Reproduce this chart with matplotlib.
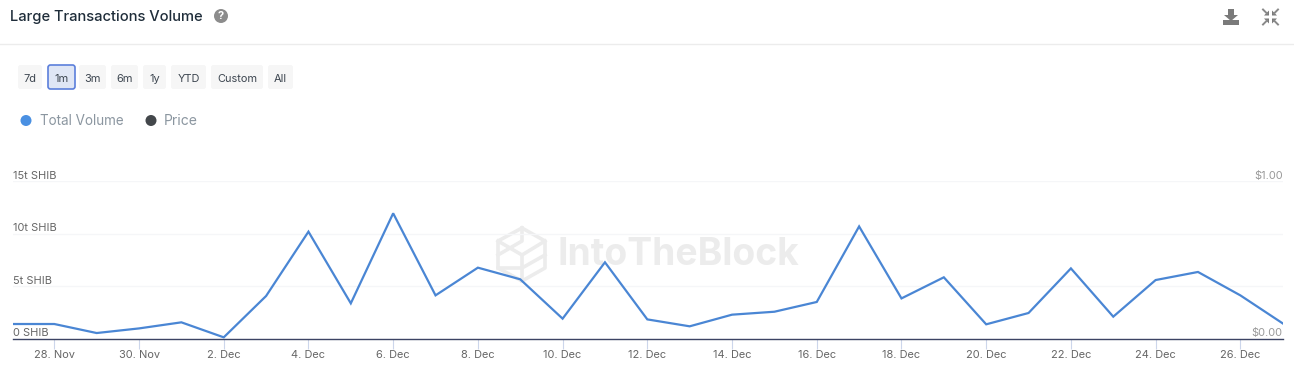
#!/usr/bin/env python3
"""Large Transactions Volume (SHIB), 1m view."""

import matplotlib
matplotlib.use("Agg")
import matplotlib.pyplot as plt
from matplotlib.patches import Circle, FancyBboxPatch, Polygon

W, H = 1294, 372

# daily volume in trillions of SHIB, 27 Nov .. 27 Dec
day_index = list(range(31))
volume_t = [1.40, 1.40, 0.54, 0.98, 1.56, 0.13, 4.07, 10.2, 3.37, 11.95, 4.13,
            6.77, 5.66, 1.91, 7.28, 1.84, 1.18, 2.29, 2.57, 3.50, 10.7, 3.84,
            5.85, 1.37, 2.45, 6.70, 2.10, 5.59, 6.36, 4.13, 1.46]
tick_days = list(range(1, 30, 2))
tick_labels = ["28. Nov", "30. Nov", "2. Dec", "4. Dec", "6. Dec", "8. Dec",
               "10. Dec", "12. Dec", "14. Dec", "16. Dec", "18. Dec", "20. Dec",
               "22. Dec", "24. Dec", "26. Dec"]
left_ticks = [0, 5, 10, 15]
left_labels = ["0 SHIB", "5t SHIB", "10t SHIB", "15t SHIB"]
right_ticks = [0, 15]
right_labels = ["$0.00", "$1.00"]
ranges = ["7d", "1m", "3m", "6m", "1y", "YTD", "Custom", "All"]
range_x0 = [18, 48, 79, 111, 143, 171, 211, 268]
range_x1 = [42, 75, 106, 138, 166, 206, 263, 293]

plt.rcParams["font.family"] = ["Inter", "DejaVu Sans"]


def px(size):
    return size * 0.72


fig = plt.figure(figsize=(W / 100, H / 100), dpi=100, facecolor="white")

# page furniture in pixel coordinates
bg = fig.add_axes([0, 0, 1, 1], zorder=0)
bg.set_xlim(0, W)
bg.set_ylim(H, 0)
bg.axis("off")

bg.text(10, 17, "Large Transactions Volume", fontsize=px(14.7), weight=500,
        color="#1f2d3a", va="center")
bg.add_patch(Circle((221, 16), 7, fc="#8c8c8c", ec="none"))
bg.text(221, 16.3, "?", fontsize=px(11), weight="bold", color="white",
        ha="center", va="center")
bg.plot([0, W], [44, 44], color="#ececec", lw=1)

# download icon
bg.add_patch(Polygon([(1228, 9), (1234, 9), (1234, 15), (1238, 15), (1231, 21),
                      (1224, 15), (1228, 15)], fc="#7a7a7a", ec="none"))
bg.add_patch(Polygon([(1223, 20), (1239, 20), (1239, 25), (1223, 25)],
                     fc="#7a7a7a", ec="none"))

# collapse icon: four arrows pointing in
for sx, sy in [(-1, -1), (1, -1), (-1, 1), (1, 1)]:
    cx, cy = 1270.5 + sx * 1.5, 17 + sy * 1.5
    bg.add_patch(Polygon([(cx, cy), (cx + sx * 5, cy), (cx, cy + sy * 5)],
                         fc="#7a7a7a", ec="none"))
    bg.plot([cx + sx * 2, cx + sx * 6], [cy + sy * 2, cy + sy * 6],
            color="#8a8a8a", lw=1.4)

# range buttons
for name, x0, x1 in zip(ranges, range_x0, range_x1):
    active = name == "1m"
    bg.add_patch(FancyBboxPatch(
        (x0, 65), x1 - x0, 24, boxstyle="round,pad=0,rounding_size=2.5",
        fc="#dfe6f5" if active else "#f6f6f6",
        ec="#5b7fdb" if active else "none", lw=1.2 if active else 0))
    bg.text((x0 + x1) / 2, 78.5, name, fontsize=px(11), color="#3d4650",
            ha="center", va="center")

# legend
bg.add_patch(Circle((26, 120.5), 5.5, fc="#4a90e2", ec="none"))
bg.text(40, 121, "Total Volume", fontsize=px(13.5), color="#8b96a0", va="center")
bg.add_patch(Circle((151, 120.5), 5.5, fc="#43474b", ec="none"))
bg.text(164, 121, "Price", fontsize=px(14), color="#8b96a0", va="center")

# watermark
wm = "#ececec"
bg.text(558, 255, "IntoTheBlock", fontsize=px(37.2), weight="bold", color=wm,
        va="center")
hex_x = [522, 545, 545, 522, 498, 498, 522]
hex_y = [228, 241, 268, 281, 268, 241, 228]
bg.plot(hex_x, hex_y, color=wm, lw=2.6)
bg.plot([498, 522, 545], [241, 255, 241], color=wm, lw=2.6)
bg.plot([522, 522], [255, 281], color=wm, lw=2.6)
bg.plot([498, 522, 522], [255, 241, 228], color=wm, lw=2.6)
bg.plot([545, 522, 498], [255, 268, 268], color=wm, lw=2.6)

# chart
ax_left, ax_right, ax_top, ax_bottom = 13, 1282.7, 181.3, 338.7
ax = fig.add_axes([ax_left / W, 1 - ax_bottom / H,
                   (ax_right - ax_left) / W, (ax_bottom - ax_top) / H], zorder=1)
ax.patch.set_alpha(0)
ax.plot(day_index, volume_t, color="#4a86d4", lw=1.6, solid_joinstyle="miter",
        zorder=3)
ax.set_xlim(0.025, 30)
ax.set_ylim(0, 15)

for side in ["top", "left", "right"]:
    ax.spines[side].set_visible(False)
ax.spines["bottom"].set_color("#3c4464")
ax.spines["bottom"].set_linewidth(1.0)
ax.set_yticks(left_ticks)
ax.set_yticklabels([])
ax.tick_params(axis="y", length=0)
ax.grid(True, axis="y", color="#f5f6f8", lw=1)
ax.set_axisbelow(True)
ax.set_xticks(tick_days)
ax.set_xticklabels(tick_labels, fontsize=px(11), color="#666666")
ax.tick_params(axis="x", length=7.2, width=0.8, color="#ccd6eb", pad=1.2)

# axis labels sit on top of their gridlines
for v, label in zip(left_ticks, left_labels):
    ax.annotate(label, (0, v), xycoords=ax.get_yaxis_transform(),
                xytext=(0, 0.2), textcoords="offset points", fontsize=px(11),
                color="#666666", ha="left", va="bottom")
for v, label in zip(right_ticks, right_labels):
    ax.annotate(label, (1, v), xycoords=ax.get_yaxis_transform(),
                xytext=(0, 0.2), textcoords="offset points", fontsize=px(11),
                color="#999999", ha="right", va="bottom")

fig.savefig("out.png", dpi=100)
